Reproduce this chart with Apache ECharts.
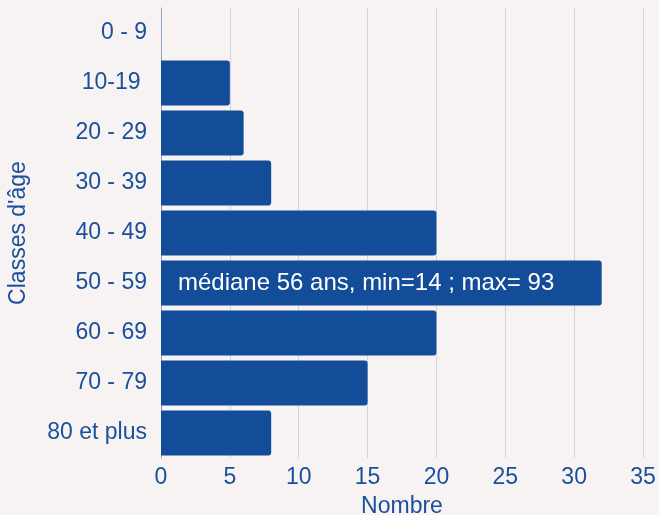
<!DOCTYPE html>
<html><head><meta charset="utf-8">
<script src="https://cdn.jsdelivr.net/npm/echarts@6/dist/echarts.min.js"></script>
<style>html,body{margin:0;padding:0;background:#f7f3f3;}#c{width:659px;height:515px;}</style>
</head><body><div id="c"></div>
<script>
const categories = ['0 - 9', '10-19 ', '20 - 29', '30 - 39', '40 - 49', '50 - 59', '60 - 69', '70 - 79', '80 et plus'];
const values = [0, 5, 6, 8, 20, 32, 20, 15, 8];
const annotation = 'médiane 56 ans, min=14 ; max= 93';
const annotatedCategory = '50 - 59';
const xTicks = {min: 0, max: 35, interval: 5};

const FONT = 'Arial, "Liberation Sans", sans-serif';
const textColor = '#1a4f9c';
const barColor = '#134c98';
const chart = echarts.init(document.getElementById('c'));
chart.setOption({
  backgroundColor: '#f7f3f3',
  animation: false,
  textStyle: {fontFamily: FONT},
  grid: {left: 161, right: 16, top: 8, bottom: 57, containLabel: false, outerBoundsMode: 'none'},
  xAxis: {
    type: 'value', min: xTicks.min, max: xTicks.max, interval: xTicks.interval,
    name: 'Nombre', nameLocation: 'middle', nameGap: 37,
    nameTextStyle: {color: textColor, fontSize: 23, fontFamily: FONT},
    axisLabel: {color: textColor, fontSize: 23, fontFamily: FONT, margin: 8},
    axisLine: {show: false}, axisTick: {show: false},
    splitLine: {show: true, lineStyle: {color: '#cdd4e4', width: 1}}
  },
  yAxis: {
    type: 'category', data: categories, inverse: true,
    name: "Classes d'âge", nameLocation: 'middle', nameGap: 131, nameRotate: 90,
    nameTextStyle: {color: textColor, fontSize: 23, fontFamily: FONT},
    axisLabel: {color: textColor, fontSize: 23, fontFamily: FONT, margin: 14},
    axisLine: {show: true, lineStyle: {color: '#8fa2c4', width: 1}},
    axisTick: {show: false}
  },
  series: [{
    type: 'bar',
    data: values.map((v, i) => categories[i] === annotatedCategory ? {
      value: v,
      label: {show: true, position: 'insideLeft', distance: 17, formatter: annotation,
              color: '#ffffff', fontSize: 24, fontFamily: FONT}
    } : v),
    barCategoryGap: '10%',
    itemStyle: {color: barColor, borderRadius: [0, 3, 3, 0]}
  }]
});
</script></body></html>
